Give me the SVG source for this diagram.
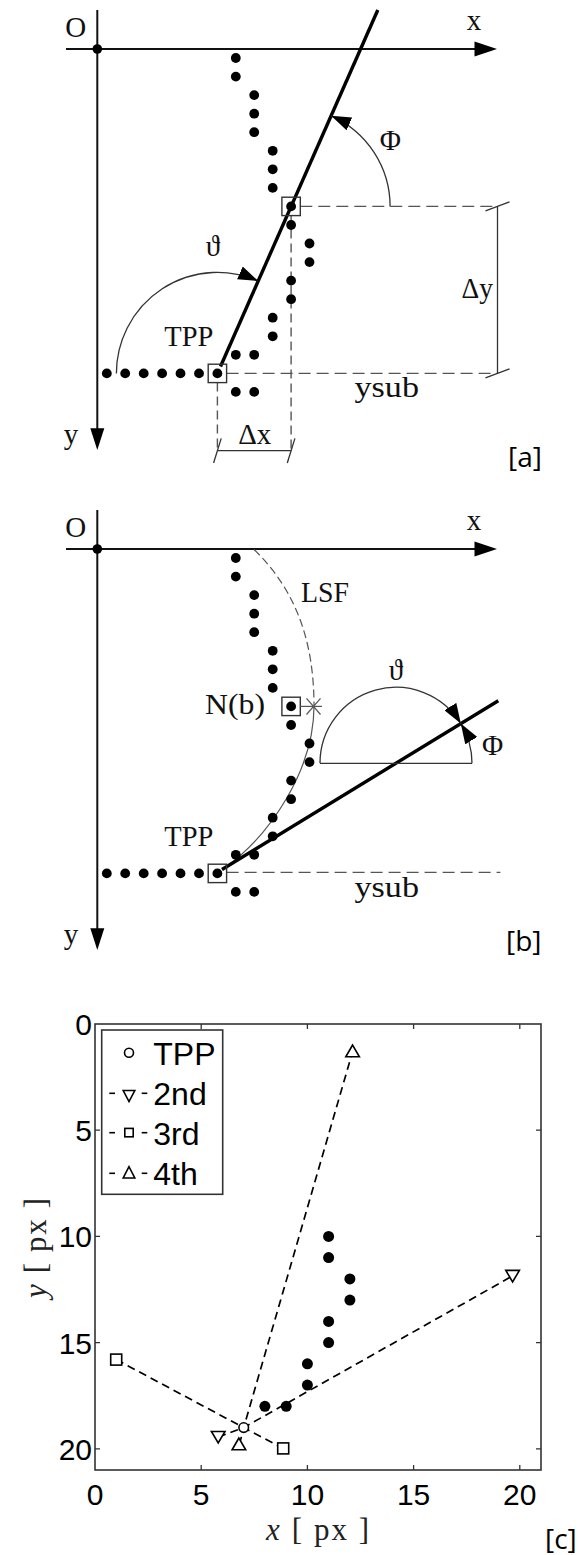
<svg xmlns="http://www.w3.org/2000/svg" width="579" height="1555" viewBox="0 0 579 1555">
<style>
.ax{stroke:#111;stroke-width:2;fill:none}
.thin{stroke:#333;stroke-width:1.3;fill:none}
.dash{stroke:#555;stroke-width:1.4;fill:none;stroke-dasharray:12 6}
.vdash{stroke:#555;stroke-width:1.4;fill:none;stroke-dasharray:9 5}
.thick{stroke:#000;stroke-width:3.4;fill:none}
.sq{fill:none;stroke:#333;stroke-width:1.4}
.lbl{font-family:"Liberation Serif","DejaVu Serif",serif;font-size:29px;fill:#111}
.pl{font-family:"Open Sans","Noto Sans",sans-serif;font-size:28px;fill:#000}
.tk{font-family:"Liberation Sans",Arial,sans-serif;font-size:30px;fill:#000}
.lg{font-family:"Liberation Sans",Arial,sans-serif;font-size:32px;fill:#000}
.axl{font-family:"Liberation Serif","DejaVu Serif",serif;font-size:31px;fill:#222}
.box{fill:none;stroke:#333;stroke-width:1.6}
.dl{stroke:#000;stroke-width:1.7;fill:none;stroke-dasharray:8 5}
.mk{fill:#fff;stroke:#000;stroke-width:1.6}
.lgl{stroke:#000;stroke-width:1.6}
</style>
<defs>
<marker id="ah" viewBox="0 0 20 14" markerWidth="20" markerHeight="14" refX="20" refY="7" orient="auto" markerUnits="userSpaceOnUse"><path d="M0,0 L20,7 L0,14 z" fill="#000"/></marker>
<g id="dots">
<circle cx="235.8" cy="58" r="4.9"/><circle cx="235.8" cy="76.6" r="4.9"/>
<circle cx="254.2" cy="95.1" r="4.9"/><circle cx="254.2" cy="113.7" r="4.9"/><circle cx="254.2" cy="132.2" r="4.9"/>
<circle cx="272.7" cy="150.8" r="4.9"/><circle cx="272.7" cy="169.3" r="4.9"/><circle cx="272.7" cy="187.9" r="4.9"/>
<circle cx="291.1" cy="206.4" r="4.9"/><circle cx="291.1" cy="225" r="4.9"/>
<circle cx="309.5" cy="243.5" r="4.9"/><circle cx="309.5" cy="262.1" r="4.9"/>
<circle cx="291.1" cy="280.6" r="4.9"/><circle cx="291.1" cy="299.2" r="4.9"/>
<circle cx="272.7" cy="317.7" r="4.9"/><circle cx="272.7" cy="336.3" r="4.9"/>
<circle cx="235.8" cy="354.8" r="4.9"/><circle cx="254.2" cy="354.8" r="4.9"/>
<circle cx="106.8" cy="373.4" r="4.9"/><circle cx="125.2" cy="373.4" r="4.9"/><circle cx="143.7" cy="373.4" r="4.9"/>
<circle cx="162.1" cy="373.4" r="4.9"/><circle cx="180.5" cy="373.4" r="4.9"/><circle cx="199" cy="373.4" r="4.9"/>
<circle cx="217.4" cy="373.4" r="4.9"/>
<circle cx="235.8" cy="391.9" r="4.9"/><circle cx="254.2" cy="391.9" r="4.9"/>
</g>
<g id="axes">
<line x1="66" y1="49" x2="476" y2="49" class="ax"/>
<polygon points="474.5,41.5 497,49 474.5,56.5" fill="#000"/>
<line x1="97.3" y1="10" x2="97.3" y2="430" class="ax"/>
<polygon points="90.3,428.3 104.3,428.3 97.3,450" fill="#000"/>
<circle cx="97.3" cy="49" r="4.8" fill="#000"/>
<text x="75.7" y="36.5" class="lbl" text-anchor="middle" font-size="27">O</text>
<text x="474" y="30" class="lbl" text-anchor="middle" font-size="31">x</text>
<text x="71" y="444" class="lbl" text-anchor="middle" font-size="31">y</text>
</g>
</defs>

<g id="panel-a">
<use href="#axes"/>
<g id="a-connectors">
<line x1="300.3" y1="206.4" x2="497.5" y2="206.4" class="dash"/>
<line x1="226.6" y1="373.4" x2="497.5" y2="373.4" class="dash"/>
<line x1="291.1" y1="215.6" x2="291.1" y2="452" class="vdash"/>
<line x1="217.4" y1="382.6" x2="217.4" y2="452" class="vdash"/>
<line x1="497.5" y1="206.4" x2="497.5" y2="373.4" class="thin"/>
<line x1="485.5" y1="210.9" x2="509.5" y2="201.9" class="thin"/>
<line x1="485.5" y1="377.9" x2="509.5" y2="368.9" class="thin"/>
<line x1="217.4" y1="450.7" x2="291.1" y2="450.7" class="thin"/>
<line x1="213.6" y1="463" x2="221.2" y2="438.4" class="thin"/>
<line x1="287.3" y1="463" x2="294.9" y2="438.4" class="thin"/>
<line x1="220.5" y1="366.5" x2="377.8" y2="10" class="thick"/>
<path d="M390.1,206.4 A99,99 0 0 0 331.1,115.8" class="thin" marker-end="url(#ah)"/>
<path d="M116.4,373.4 A101,101 0 0 1 258.2,281" class="thin" marker-end="url(#ah)"/>
</g>
<use href="#dots"/>
<rect x="281.9" y="197.2" width="18.4" height="18.4" class="sq"/>
<rect x="208.2" y="364.2" width="18.4" height="18.4" class="sq"/>
<text x="390.3" y="150" class="lbl" text-anchor="middle">Φ</text>
<text x="213" y="256" class="lbl" text-anchor="middle">ϑ</text>
<text x="164.3" y="346" class="lbl" textLength="49" lengthAdjust="spacingAndGlyphs">TPP</text>
<text x="354.5" y="396.7" class="lbl" textLength="64.5" lengthAdjust="spacingAndGlyphs">ysub</text>
<text x="238.2" y="444" class="lbl" font-size="27" textLength="33" lengthAdjust="spacingAndGlyphs">Δx</text>
<text x="461.6" y="298" class="lbl" font-size="27" textLength="31.4" lengthAdjust="spacingAndGlyphs">Δy</text>
<text x="508" y="467" class="pl">[a]</text>
</g>

<g id="panel-b">
<g transform="translate(0,500)"><use href="#axes"/></g>
<g id="b-connectors">
<line x1="226.6" y1="872.4" x2="500.4" y2="872.4" class="dash"/>
<path d="M254,549.5 C298,592 314,645 314,706" fill="none" stroke="#555" stroke-width="1.2" stroke-dasharray="8 4"/>
<path d="M314,706 C314,770 270,835 226,867" fill="none" stroke="#555" stroke-width="1.2"/>
<line x1="222" y1="869.5" x2="498.3" y2="700.7" class="thick"/>
<line x1="320" y1="763.3" x2="472" y2="763.3" class="thin"/>
<path d="M320,763.3 A76,76 0 0 1 460.8,723.6" class="thin" marker-end="url(#ah)"/>
<path d="M472,763.3 A76,76 0 0 0 460.8,723.6" class="thin" marker-end="url(#ah)"/>
</g>
<g transform="translate(0,500)"><use href="#dots"/></g>
<rect x="281.9" y="697.2" width="18.4" height="18.4" class="sq"/>
<rect x="208.2" y="864.2" width="18.4" height="18.4" class="sq"/>
<g id="asterisk" stroke="#555" stroke-width="1.2">
<line x1="300.3" y1="706.4" x2="322" y2="706.4"/>
<line x1="306.5" y1="698.3" x2="320.5" y2="714.5"/>
<line x1="306.5" y1="714.5" x2="320.5" y2="698.3"/>
</g>
<text x="205" y="714" class="lbl" textLength="60" lengthAdjust="spacingAndGlyphs">N(b)</text>
<text x="301" y="601.7" class="lbl" textLength="48" lengthAdjust="spacingAndGlyphs">LSF</text>
<text x="396" y="680" class="lbl" text-anchor="middle">ϑ</text>
<text x="492.5" y="755" class="lbl" text-anchor="middle">Φ</text>
<text x="164.3" y="846" class="lbl" textLength="49" lengthAdjust="spacingAndGlyphs">TPP</text>
<text x="354.5" y="896.7" class="lbl" textLength="64.5" lengthAdjust="spacingAndGlyphs">ysub</text>
<text x="506" y="951" class="pl">[b]</text>
</g>

<g id="panel-c">
<rect x="95" y="1024" width="446" height="446" class="box" fill="#fff"/>
<g id="ticks" stroke="#333" stroke-width="1.3">
<path d="M201.2,1470v-5M307.4,1470v-5M413.6,1470v-5M519.8,1470v-5M201.2,1024v5M307.4,1024v5M413.6,1024v5M519.8,1024v5"/>
<path d="M95,1130.2h5M95,1236.4h5M95,1342.6h5M95,1448.8h5M541,1130.2h-5M541,1236.4h-5M541,1342.6h-5M541,1448.8h-5"/>
</g>
<g id="c-connectors">
<polyline points="218.2,1437.1 243.7,1427.6 512.6,1275.9" class="dl"/>
<polyline points="116.2,1359.6 243.7,1427.6 283.2,1448.4" class="dl"/>
<polyline points="239.4,1444.6 243.7,1427.6 352.6,1051.6" class="dl"/>
</g>
<g id="c-dots" fill="#000">
<circle cx="328.6" cy="1236.4" r="5.5"/><circle cx="328.6" cy="1257.6" r="5.5"/>
<circle cx="349.9" cy="1278.9" r="5.5"/><circle cx="349.9" cy="1300.1" r="5.5"/>
<circle cx="328.6" cy="1321.4" r="5.5"/><circle cx="328.6" cy="1342.6" r="5.5"/>
<circle cx="307.4" cy="1363.8" r="5.5"/><circle cx="307.4" cy="1385.1" r="5.5"/>
<circle cx="264.9" cy="1406.3" r="5.5"/><circle cx="286.2" cy="1406.3" r="5.5"/>
</g>
<g id="c-markers">
<circle cx="243.7" cy="1427.6" r="4.8" class="mk"/>
<polygon points="211.4,1431.5 225,1431.5 218.2,1443" class="mk"/>
<polygon points="505.8,1270.4 519.4,1270.4 512.6,1281.9" class="mk"/>
<rect x="110.7" y="1354.1" width="11" height="11" class="mk"/>
<rect x="277.7" y="1442.9" width="11" height="11" class="mk"/>
<polygon points="238.9,1438 232.1,1449.8 245.7,1449.8" class="mk"/>
<polygon points="352.6,1045 345.8,1056.8 359.4,1056.8" class="mk"/>
</g>
<g id="legend">
<rect x="101.7" y="1030" width="121" height="164.3" class="box" fill="#fff"/>
<circle cx="129" cy="1052.7" r="4.5" class="mk"/>
<text x="153.3" y="1065" class="lg">TPP</text>
<line x1="109.3" y1="1093.3" x2="115" y2="1093.3" class="lgl"/>
<line x1="141.7" y1="1093.3" x2="147.3" y2="1093.3" class="lgl"/>
<polygon points="123.2,1090.5 134.8,1090.5 129,1101.5" class="mk"/>
<text x="153.3" y="1105" class="lg">2nd</text>
<line x1="109.3" y1="1132.7" x2="115" y2="1132.7" class="lgl"/>
<line x1="141.7" y1="1132.7" x2="147.3" y2="1132.7" class="lgl"/>
<rect x="124.8" y="1128.4" width="8.4" height="8.4" class="mk"/>
<text x="153.3" y="1145" class="lg">3rd</text>
<line x1="109.3" y1="1173.3" x2="115" y2="1173.3" class="lgl"/>
<line x1="141.7" y1="1173.3" x2="147.3" y2="1173.3" class="lgl"/>
<polygon points="129,1166.7 123.2,1178 134.8,1178" class="mk"/>
<text x="153.3" y="1185" class="lg">4th</text>
</g>
<g id="tick-labels" class="tk">
<text x="95" y="1505" text-anchor="middle">0</text>
<text x="201.2" y="1505" text-anchor="middle">5</text>
<text x="307.4" y="1505" text-anchor="middle">10</text>
<text x="413.6" y="1505" text-anchor="middle">15</text>
<text x="519.8" y="1505" text-anchor="middle">20</text>
<text x="92" y="1035" text-anchor="end">0</text>
<text x="92" y="1141.2" text-anchor="end">5</text>
<text x="92" y="1247.4" text-anchor="end">10</text>
<text x="92" y="1353.6" text-anchor="end">15</text>
<text x="92" y="1459.8" text-anchor="end">20</text>
</g>
<text x="317.6" y="1540" class="axl" text-anchor="middle" textLength="103" lengthAdjust="spacing"><tspan font-style="italic">x</tspan> [ px ]</text>
<text transform="translate(45.6,1248) rotate(-90)" class="axl" text-anchor="middle" textLength="100" lengthAdjust="spacing"><tspan font-style="italic">y</tspan> [ px ]</text>
<text x="545" y="1549" class="pl">[c]</text>
</g>
</svg>
